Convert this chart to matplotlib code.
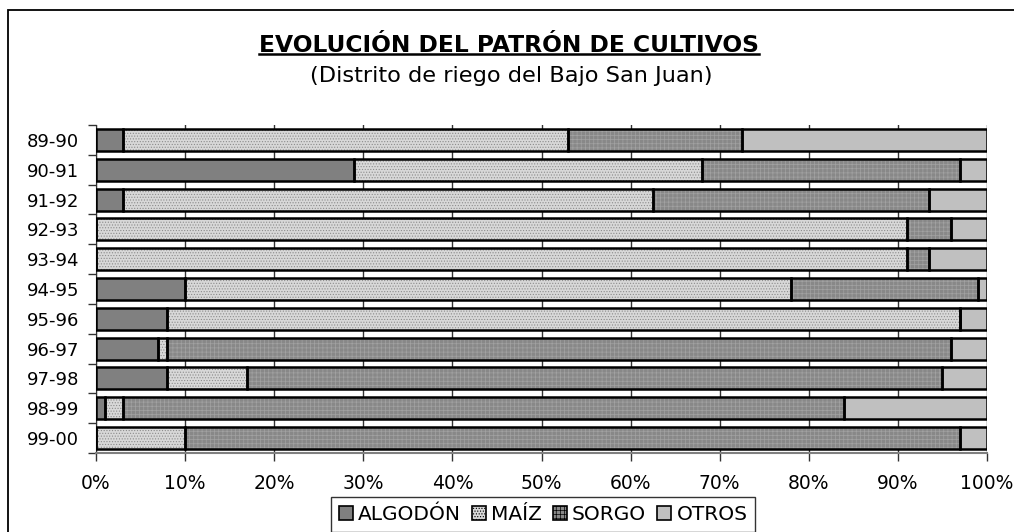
import numpy as np
import matplotlib
matplotlib.use("Agg")
import matplotlib.pyplot as plt
from matplotlib.patches import Rectangle
from matplotlib.lines import Line2D

# the source text is wide, DejaVu Sans fits the footprint better than Arial
plt.rcParams['font.family'] = ['DejaVu Sans']

# data (% of cultivated area)
periodos = ['89-90', '90-91', '91-92', '92-93', '93-94', '94-95',
            '95-96', '96-97', '97-98', '98-99', '99-00']
algodon = [3, 29, 3, 0, 0, 10, 8, 7, 8, 1, 0]
maiz = [50, 39, 59.5, 91, 91, 68, 89, 1, 9, 2, 10]
sorgo = [19.5, 29, 31, 5, 2.5, 21, 0, 88, 78, 81, 87]
otros = [27.5, 3, 6.5, 4, 6.5, 1, 3, 4, 5, 16, 3]

series = [('ALGODÓN', algodon), ('MAÍZ', maiz), ('SORGO', sorgo), ('OTROS', otros)]
caras = {'ALGODÓN': '#808080', 'MAÍZ': '#d8d8d8', 'SORGO': '#888888', 'OTROS': '#c0c0c0'}
tramas = {'ALGODÓN': None, 'MAÍZ': '......', 'SORGO': '++++', 'OTROS': None}
color_trama = {'ALGODÓN': None, 'MAÍZ': '#8c8c8c', 'SORGO': '#a2a2a2', 'OTROS': None}

plt.rcParams['hatch.linewidth'] = 0.5

fig = plt.figure(figsize=(10.14, 5.32), dpi=100)
ax = fig.add_axes([96 / 1014, 1 - 453 / 532, 891 / 1014, 328 / 532])

y = np.arange(len(periodos))
left = np.zeros(len(periodos))
handles = []
for nombre, vals in series:
    vals = np.array(vals, dtype=float)
    ax.barh(y, vals, left=left, height=0.74, color=caras[nombre],
            edgecolor=color_trama[nombre] or caras[nombre], linewidth=0,
            hatch=tramas[nombre], zorder=2)
    ax.barh(y, vals, left=left, height=0.74, facecolor='none',
            edgecolor='black', linewidth=1.8, zorder=3)
    left += vals
    handles.append(Rectangle((0, 0), 1, 1, facecolor=caras[nombre],
                             edgecolor='black', linewidth=1.2,
                             hatch=tramas[nombre]))

ax.set_xlim(0, 100)
ax.set_ylim(len(periodos) - 0.5, -0.5)
ax.set_xticks(np.arange(0, 101, 10))
ax.set_xticklabels([f'{v}%' for v in range(0, 101, 10)], fontsize=13.5)
ax.set_yticks(y)
ax.set_yticklabels(periodos, fontsize=13)
ax.set_yticks(np.arange(-0.5, len(periodos), 1), minor=True)
ax.tick_params(axis='y', which='major', length=0, pad=12)
ax.tick_params(axis='y', which='minor', length=6, width=1, color='#333333', direction='out')
ax.tick_params(axis='x', length=6, width=1, color='#333333', direction='out', pad=9)
ax.xaxis.grid(True, color='#333333', linewidth=1, zorder=0)
ax.set_axisbelow(True)
for s in ['top', 'right']:
    ax.spines[s].set_visible(False)
ax.spines['left'].set_color('#333333')
ax.spines['bottom'].set_color('#808080')
ax.spines['bottom'].set_linewidth(1.5)

# outer frame
fig.patches.append(Rectangle((8 / 1014, -0.05), 1.1, 1 - 10 / 532 + 0.05,
                             transform=fig.transFigure, fill=False,
                             edgecolor='black', linewidth=1.3))

titulo = fig.text(509 / 1014, 1 - 45 / 532, 'EVOLUCIÓN DEL PATRÓN DE CULTIVOS',
                  ha='center', va='center', fontsize=16.8, fontweight='bold')
fig.text(511 / 1014, 1 - 76 / 532, '(Distrito de riego del Bajo San Juan)',
         ha='center', va='center', fontsize=16.2)

fig.canvas.draw()
bb = titulo.get_window_extent().transformed(fig.transFigure.inverted())
yl = bb.y0 + 2.5 / 532
fig.lines.append(Line2D([bb.x0, bb.x1], [yl, yl],
                        transform=fig.transFigure, color='black', linewidth=1.8))

leg = fig.legend(handles, [s[0] for s in series], loc='upper center',
                 bbox_to_anchor=(543 / 1014, 1 - 497 / 532), ncol=4,
                 fontsize=14.5, frameon=True, fancybox=False,
                 handlelength=0.7, handleheight=0.7, handletextpad=0.25,
                 columnspacing=0.55, borderpad=0.4, borderaxespad=0)
leg.get_frame().set_edgecolor('black')
leg.get_frame().set_linewidth(1.0)

fig.savefig('out.png', dpi=100)
